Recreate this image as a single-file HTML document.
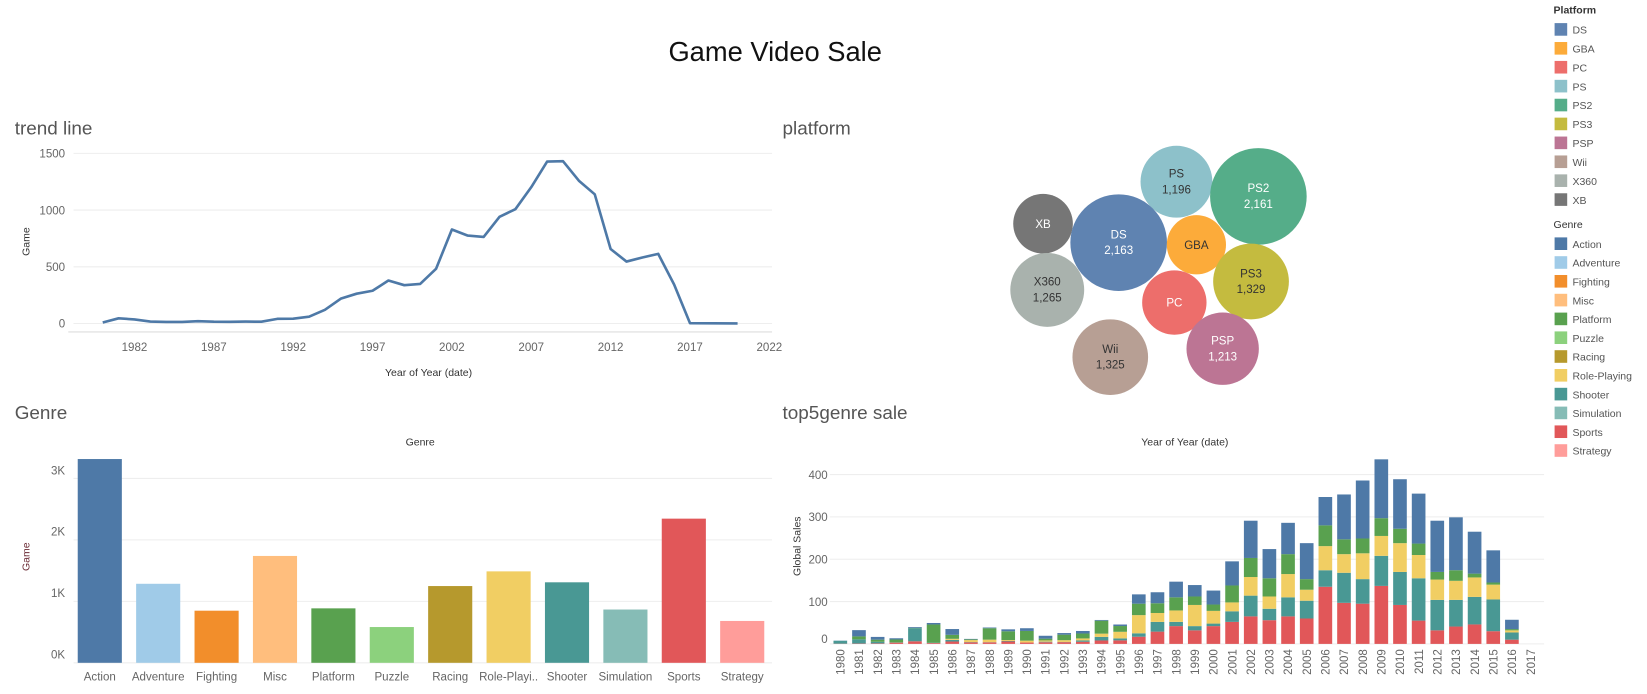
<!DOCTYPE html>
<html><head><meta charset="utf-8"><style>
body{margin:0;background:#fff;width:1647px;height:689px;overflow:hidden;font-family:"Liberation Sans",sans-serif}
svg text{font-family:"Liberation Sans",sans-serif}
</style></head><body>
<svg id="s" width="1647" height="689" xmlns="http://www.w3.org/2000/svg">
<g transform="scale(1.0504)">
<text x="738" y="58" text-anchor="middle" font-size="26" fill="#111">Game Video Sale</text>
<text x="14" y="128" font-size="18" fill="#555">trend line</text>
<text x="745" y="128" font-size="18" fill="#555">platform</text>
<text x="14" y="399" font-size="18" fill="#555">Genre</text>
<text x="745" y="399" font-size="18" fill="#555">top5genre sale</text>
<g id="trend"></g><g id="bubbles"></g><g id="genre"></g><g id="stack"></g><g id="legend"></g>
</g>
</svg>
<script>
const trendYears=[1980,1981,1982,1983,1984,1985,1986,1987,1988,1989,1990,1991,1992,1993,1994,1995,1996,1997,1998,1999,2000,2001,2002,2003,2004,2005,2006,2007,2008,2009,2010,2011,2012,2013,2014,2015,2016,2017,2020];
const trendCounts=[9,46,36,17,14,14,21,16,15,17,16,41,43,60,121,219,263,289,379,338,349,482,829,775,763,941,1008,1202,1428,1431,1259,1139,657,546,582,614,344,3,1];
const trendTicks=[0,500,1000,1500];
const trendXTicks=[1982,1987,1992,1997,2002,2007,2012,2017,2022];
const platNames=['PS','PS2','XB','DS','GBA','PS3','X360','PC','Wii','PSP'];
const platCounts=[1196,2161,824,2163,811,1329,1265,960,1325,1213];
const platLabels=['1,196','2,161','','2,163','','1,329','1,265','','1,325','1,213'];
const genreNames=['Action','Adventure','Fighting','Misc','Platform','Puzzle','Racing','Role-Playing','Shooter','Simulation','Sports','Strategy'];
const genreCounts=[3316,1286,848,1739,886,582,1249,1488,1310,867,2346,681];
const genreTicks=[0,1000,2000,3000];
const stackYears=[1980,1981,1982,1983,1984,1985,1986,1987,1988,1989,1990,1991,1992,1993,1994,1995,1996,1997,1998,1999,2000,2001,2002,2003,2004,2005,2006,2007,2008,2009,2010,2011,2012,2013,2014,2015,2016,2017];
const sports=[0.5,0.8,1.1,3,6.2,1.9,5.6,3.7,3.6,5.7,3.2,3.9,4.1,5.1,8.1,8.3,17,29,42,32,42,52,65,56,65,60,135,97,95,137,92,55,32,41,46,30,10,0];
const shooter=[7,10,3.9,0.5,31,1,3.9,0.7,0.5,1.2,0,1.4,0.5,3.1,8.5,4.7,8,23,10,10,6,25,49,27,45,42,39,71,58,71,78,100,72,63,65,75,17,0];
const rpg=[0,0,0,0,0,0,2.5,4.6,5.9,2.2,4.5,2.9,4.2,4.7,7.6,15.6,43,21,27,50,30,21,44,29,55,26,57,44,61,47,68,55,48,45,46,35,5,0];
const platformS=[0,6.9,5,6.9,0.7,43,9.4,1.7,27,20.7,22.9,4.2,13,11.6,30.6,13.6,27,23,31,20,15,40,45,43,47,25,49,35,35,42,34,27,18,25,9,5,3,0];
const action=[0.3,14.8,6.5,2.9,1.9,3.5,13.7,1.1,1.7,4.6,6.4,6.8,3.8,6,1.7,3.6,22,26,37,27,33,57,88,69,74,85,67,106,137,139,117,118,121,125,99,76,22,0];
const stackTicks=[0,100,200,300,400];
const platColors={DS:'#5f83b1',GBA:'#fcab3a',PC:'#ed6e6b',PS:'#8dc1ca',PS2:'#55ad89',PS3:'#c4bb3f',PSP:'#bc7594',Wii:'#b79f94',X360:'#a9b2ad',XB:'#767676'};
const genreColors=['#4e79a7','#a0cbe8','#f28e2b','#ffbe7d','#59a14f','#8cd17d','#b6992d','#f1ce63','#499894','#86bcb6','#e15759','#ff9d9a'];
const NS='http://www.w3.org/2000/svg';
function mk(p,t,a,txt){const e=document.createElementNS(NS,t);for(const k in a)e.setAttribute(k,a[k]);if(txt!==undefined)e.textContent=txt;p.appendChild(e);return e;}

// trend
const tg=document.getElementById('trend');
const tx=y=>97.8+(y-1980)*15.11, ty=v=>308-v*0.108;
mk(tg,'line',{x1:65,x2:735,y1:316,y2:316,stroke:'#ddd'});
trendTicks.forEach(v=>{const g=mk(tg,'line',{x1:70,x2:735,y1:ty(v),y2:ty(v),stroke:'#eee'});
const t=mk(tg,'text',{x:62,y:ty(v)+4,'text-anchor':'end','font-size':11,fill:'#666'},v);});
trendXTicks.forEach(v=>{const t=mk(tg,'text',{x:tx(v),y:334,'text-anchor':'middle','font-size':11,fill:'#666'},v);});
const tl=mk(tg,'path',{d:trendYears.map((y,i)=>(i?'L':'M')+tx(y)+','+ty(trendCounts[i])).join(''),fill:'none',stroke:'#4e79a7','stroke-width':2.5,'stroke-linejoin':'round'});


let t1=mk(tg,'text',{x:408,y:358,'text-anchor':'middle','font-size':10,fill:'#333'},'Year of Year (date)');
let t2=mk(tg,'text',{x:0,y:0,transform:'translate(28,230) rotate(-90)','text-anchor':'middle','font-size':10,fill:'#333'},'Game');

// bubbles
const bg=document.getElementById('bubbles');
const bpos=[[1120,173],[1198,187],[993,213],[1065,231],[1139,233],[1191,268],[997,276],[1118,288],[1057,340],[1164,332]];
platNames.forEach((n,i)=>{const r=0.989*Math.sqrt(platCounts[i]);
const c=mk(bg,'circle',{cx:bpos[i][0],cy:bpos[i][1],r:r,fill:platColors[n]});
const light=['PS','GBA','PS3','X360','Wii'].includes(n);const col=light?'#333':'#fff';
if(platLabels[i]){mk(bg,'text',{x:bpos[i][0],y:bpos[i][1]-4,'text-anchor':'middle','font-size':11,fill:col},n);mk(bg,'text',{x:bpos[i][0],y:bpos[i][1]+11,'text-anchor':'middle','font-size':11,fill:col},platLabels[i]);}
else mk(bg,'text',{x:bpos[i][0],y:bpos[i][1]+4,'text-anchor':'middle','font-size':11,fill:col},n);});

// genre bars
const gg=document.getElementById('genre');
const gx=i=>95+i*55.6, gy=v=>631-v*0.0585;
genreTicks.forEach(v=>{const l=mk(gg,'line',{x1:70,x2:735,y1:gy(v),y2:gy(v),stroke:'#eee'});
const t=mk(gg,'text',{x:62,y:gy(v)-4,'text-anchor':'end','font-size':11,fill:'#666'},(v/1000)+'K');});
genreNames.forEach((n,i)=>{const r=mk(gg,'rect',{x:gx(i)-21,y:gy(genreCounts[i]),width:42,height:gy(0)-gy(genreCounts[i]),fill:genreColors[i]});
const t=mk(gg,'text',{x:gx(i),y:648,'text-anchor':'middle','font-size':11,fill:'#666'},n==='Role-Playing'?'Role-Playi..':n);});
let g1=mk(gg,'text',{x:400,y:424,'text-anchor':'middle','font-size':10,fill:'#333'},'Genre');
let g2=mk(gg,'text',{x:0,y:0,transform:'translate(28,530) rotate(-90)','text-anchor':'middle','font-size':10,fill:'#6b2b35'},'Game');

// stacked
const sg=document.getElementById('stack');
const sx=i=>800+i*17.76, sy=v=>613-v*0.403;
stackTicks.forEach(v=>{const l=mk(sg,'line',{x1:790,x2:1470,y1:sy(v),y2:sy(v),stroke:'#eee'});
const t=mk(sg,'text',{x:788,y:sy(v)+(v?4:-1),'text-anchor':'end','font-size':11,fill:'#666'},v);});
const series=[[sports,'#e15759','sports'],[shooter,'#499894','shooter'],[rpg,'#f1ce63','role-playing'],[platformS,'#59a14f','platform'],[action,'#4e79a7','action']];
stackYears.forEach((y,i)=>{let base=0;series.forEach(s=>{const v=s[0][i];if(v>0){const r=mk(sg,'rect',{x:sx(i)-6.5,y:sy(base+v),width:13,height:sy(base)-sy(base+v),fill:s[1]});}base+=v;});
const t=mk(sg,'text',{x:0,y:0,transform:'translate('+(sx(i)+4)+',618) rotate(-90)','text-anchor':'end','font-size':11,fill:'#666'},y);});
let s1=mk(sg,'text',{x:1128,y:424,'text-anchor':'middle','font-size':10,fill:'#333'},'Year of Year (date)');
let s2=mk(sg,'text',{x:0,y:0,transform:'translate(762,520) rotate(-90)','text-anchor':'middle','font-size':10,fill:'#333'},'Global Sales');

// legend
const lg=document.getElementById('legend');
let h1=mk(lg,'text',{x:1479,y:13,'font-size':10,fill:'#333','font-weight':'bold'},'Platform');
Object.keys(platColors).forEach((n,i)=>{const y=22+i*18;const r=mk(lg,'rect',{x:1480,y:y,width:12,height:12,fill:platColors[n]});mk(lg,'text',{x:1497,y:y+10,'font-size':10,fill:'#555'},n);});
let h2=mk(lg,'text',{x:1479,y:217,'font-size':10,fill:'#333'},'Genre');
genreNames.forEach((n,i)=>{const y=226+i*17.9;const r=mk(lg,'rect',{x:1480,y:y,width:12,height:12,fill:genreColors[i]});mk(lg,'text',{x:1497,y:y+10,'font-size':10,fill:'#555'},n);});
</script>
</body></html>
